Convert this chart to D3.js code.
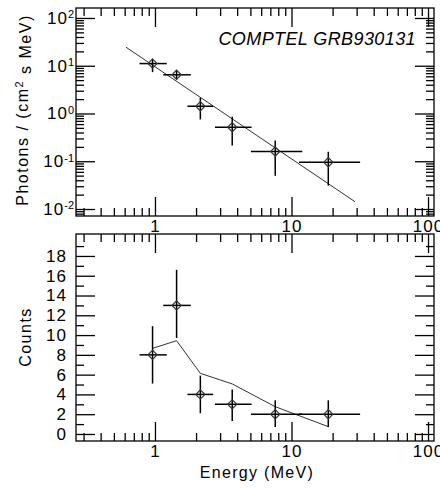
<!DOCTYPE html>
<html>
<head>
<meta charset="utf-8">
<script src="https://cdn.jsdelivr.net/npm/d3@7"></script>
<style>
  body { margin: 0; background: #fff; }
  svg { display: block; font-family: 'Liberation Sans', Arial, sans-serif; }
  .axis path.domain { display: none; }
  .axis line { stroke: #000; stroke-width: 1.3; }
  .axis text { fill: #000; font-size: 17px; letter-spacing: 1px; }
</style>
</head>
<body>
<div id="chart"></div>
<script>
// energy bins (MeV), shared by both panels
const energy = [0.96, 1.44, 2.15, 3.68, 7.6, 18.6];
const energyLo = [0.77, 1.15, 1.73, 2.75, 5.05, 11.35];
const energyHi = [1.22, 1.83, 2.67, 5.1, 12.0, 31.8];

// photon spectrum
const flux = [11.1, 6.46, 1.42, 0.516, 0.16, 0.0955];
const fluxLo = [7.35, 5.15, 0.75, 0.214, 0.05, 0.031];
const fluxHi = [14.0, 8.07, 2.13, 0.853, 0.272, 0.158];
const modelEnergy = [0.613, 29.2];
const modelFlux = [24.5, 0.0142];

// count spectrum
const counts = [8, 13, 4, 3, 2, 2];
const countsLo = [5.1, 9.7, 2.1, 1.3, 0.7, 0.7];
const countsHi = [10.9, 16.6, 5.9, 4.5, 3.4, 3.4];
const modelCounts = [8.66, 9.43, 6.13, 5.06, 2.76, 0.74];

// ticks
const xMajor = [1, 10, 100];
const xMinor = [0.3, 0.4, 0.5, 0.6, 0.7, 0.8, 0.9, 2, 3, 4, 5, 6, 7, 8, 9, 20, 30, 40, 50, 60, 70, 80, 90];
const fluxMajor = [0.01, 0.1, 1, 10, 100];
const fluxExp = ['-2', '-1', '0', '1', '2'];
const countMajor = [0, 2, 4, 6, 8, 10, 12, 14, 16, 18];
const countMinor = [1, 3, 5, 7, 9, 11, 13, 15, 17, 19];

function draw() {
  const dimensions = {
    width: 440,
    height: 488,
    left: 76,
    right: 434,
    top: { y0: 8, y1: 216 },
    bottom: { y0: 234, y1: 441 },
    major: 19,
    minor: 8,
  };

  const fluxMinor = [];
  [0.001, 0.01, 0.1, 1, 10, 100].forEach((p) => {
    for (let k = 2; k <= 9; k++) fluxMinor.push(p * k);
  });

  const svg = d3.select('#chart').append('svg').attr('width', dimensions.width).attr('height', dimensions.height);

  const xScale = d3.scaleLog().domain([0.264, 110.6]).range([dimensions.left, dimensions.right]);
  const yFlux = d3.scaleLog().domain([0.00714, 161.8]).range([dimensions.top.y1, dimensions.top.y0]);
  const yCounts = d3.scaleLinear().domain([-0.71, 20.22]).range([dimensions.bottom.y1, dimensions.bottom.y0]);
  const fluxMinorIn = fluxMinor.filter((v) => v > yFlux.domain()[0] && v < yFlux.domain()[1]);

  // frame + ticks on four sides of a panel
  function frame(p, yScale, yMajor, yMinor, yFormat) {
    const addAxis = (axis, tx, ty) =>
      svg.append('g').classed('axis', true).attr('transform', `translate(${tx},${ty})`).call(axis);

    addAxis(d3.axisBottom(xScale).tickValues(xMajor).tickSizeInner(-dimensions.major).tickSizeOuter(0).tickPadding(4).tickFormat(d3.format('d')), 0, p.y1);
    addAxis(d3.axisBottom(xScale).tickValues(xMinor).tickSizeInner(-dimensions.minor).tickSizeOuter(0).tickFormat(''), 0, p.y1);
    addAxis(d3.axisTop(xScale).tickValues(xMajor).tickSizeInner(-dimensions.major).tickSizeOuter(0).tickFormat(''), 0, p.y0);
    addAxis(d3.axisTop(xScale).tickValues(xMinor).tickSizeInner(-dimensions.minor).tickSizeOuter(0).tickFormat(''), 0, p.y0);

    const left = addAxis(d3.axisLeft(yScale).tickValues(yMajor).tickSizeInner(-dimensions.major).tickSizeOuter(0).tickPadding(yFormat ? 2 : 9), dimensions.left, 0);
    addAxis(d3.axisLeft(yScale).tickValues(yMinor).tickSizeInner(-dimensions.minor).tickSizeOuter(0).tickFormat(''), dimensions.left, 0);
    addAxis(d3.axisRight(yScale).tickValues(yMajor).tickSizeInner(-dimensions.major).tickSizeOuter(0).tickFormat(''), dimensions.right, 0);
    addAxis(d3.axisRight(yScale).tickValues(yMinor).tickSizeInner(-dimensions.minor).tickSizeOuter(0).tickFormat(''), dimensions.right, 0);

    if (yFormat) {
      left.selectAll('.tick text').each(function (d, i) {
        const t = d3.select(this).text('');
        t.append('tspan').text('10');
        t.append('tspan').attr('dy', '-0.5em').style('font-size', '11px').style('letter-spacing', '0px').text(yFormat[i]);
      });
    }

    svg.append('rect')
      .attr('x', dimensions.left)
      .attr('y', p.y0)
      .attr('width', dimensions.right - dimensions.left)
      .attr('height', p.y1 - p.y0)
      .attr('fill', 'none')
      .attr('stroke', '#000')
      .attr('stroke-width', 1.3);
  }

  frame(dimensions.top, yFlux, fluxMajor, fluxMinorIn, fluxExp);
  frame(dimensions.bottom, yCounts, countMajor, countMinor, null);

  // data marks for one panel
  function points(yScale, vals, lo, hi, modelX, modelY) {
    const g = svg.append('g');
    g.append('path')
      .datum(modelX.map((x, i) => [x, modelY[i]]))
      .attr('d', d3.line().x((d) => xScale(d[0])).y((d) => yScale(d[1])))
      .attr('fill', 'none')
      .attr('stroke', '#333')
      .attr('stroke-width', 1);

    g.selectAll('line.ex')
      .data(energy)
      .join('line')
      .attr('x1', (d, i) => xScale(energyLo[i]))
      .attr('x2', (d, i) => xScale(energyHi[i]))
      .attr('y1', (d, i) => yScale(vals[i]))
      .attr('y2', (d, i) => yScale(vals[i]))
      .attr('stroke', '#000')
      .attr('stroke-width', 1.5);

    g.selectAll('line.ey')
      .data(energy)
      .join('line')
      .attr('x1', (d) => xScale(d))
      .attr('x2', (d) => xScale(d))
      .attr('y1', (d, i) => yScale(lo[i]))
      .attr('y2', (d, i) => yScale(hi[i]))
      .attr('stroke', '#000')
      .attr('stroke-width', 1.5);

    g.selectAll('path.pt')
      .data(energy)
      .join('path')
      .attr('d', d3.symbol(d3.symbolSquare, 42))
      .attr('transform', (d, i) => `translate(${xScale(d)},${yScale(vals[i])}) rotate(45)`)
      .attr('fill', 'none')
      .attr('stroke', '#333')
      .attr('stroke-width', 1.2);
  }

  points(yFlux, flux, fluxLo, fluxHi, modelEnergy, modelFlux);
  points(yCounts, counts, countsLo, countsHi, energy, modelCounts);

  svg.append('text')
    .attr('x', 416)
    .attr('y', 45)
    .attr('text-anchor', 'end')
    .style('font-size', '18px')
    .style('font-style', 'italic')
    .style('letter-spacing', '0.4px')
    .text('COMPTEL GRB930131');

  const yTitle = svg.append('text')
    .attr('transform', `translate(28, 110) rotate(-90)`)
    .attr('text-anchor', 'middle')
    .style('font-size', '16px')
    .style('letter-spacing', '1.5px');
  yTitle.append('tspan').text('Photons / (cm');
  yTitle.append('tspan').attr('dy', '-0.5em').style('font-size', '11px').text('2');
  yTitle.append('tspan').attr('dy', '0.5em').text(' s MeV)');

  svg.append('text')
    .attr('transform', `translate(31, 337) rotate(-90)`)
    .attr('text-anchor', 'middle')
    .style('font-size', '16px')
    .style('letter-spacing', '1.5px')
    .text('Counts');

  svg.append('text')
    .attr('x', 257)
    .attr('y', 478)
    .attr('text-anchor', 'middle')
    .style('font-size', '16px')
    .style('letter-spacing', '1.3px')
    .text('Energy (MeV)');
}

draw();
</script>
</body>
</html>
